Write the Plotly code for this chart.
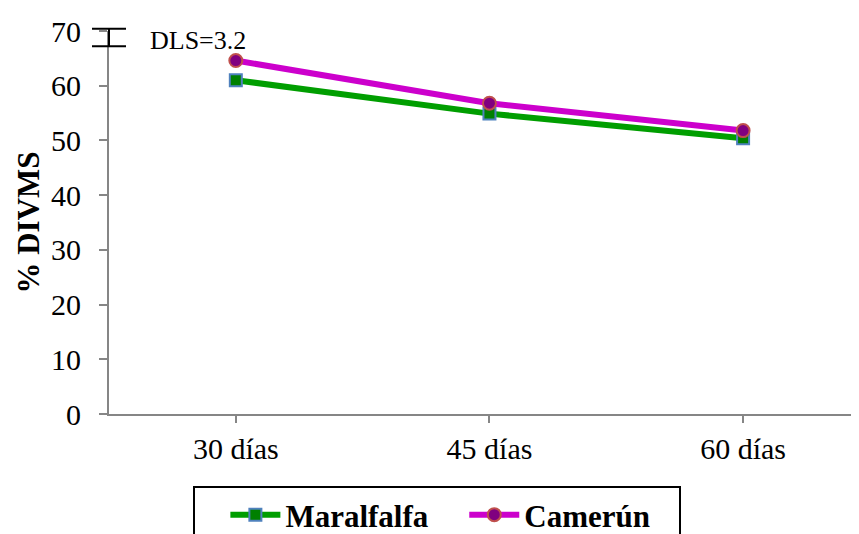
import plotly.graph_objects as go

categories = ["30 días", "45 días", "60 días"]
maralfalfa = [61.0, 54.9, 50.4]
camerun = [64.6, 56.8, 51.8]
series_names = ["Maralfalfa", "Camerún"]
dls_value = 3.2
dls_center = 68.8
y_ticks = [0, 10, 20, 30, 40, 50, 60, 70]
y_range = [0, 70]

x_idx = list(range(len(categories)))
FONT = "Liberation Serif, Times New Roman, serif"
NBSP = "\u00a0"

fig = go.Figure()
fig.add_trace(go.Scatter(
    x=x_idx, y=maralfalfa, name=series_names[0] + NBSP * 4, mode="lines+markers",
    line=dict(color="#009e00", width=6),
    marker=dict(symbol="square", size=12, color="#008000",
                line=dict(color="#4f81bd", width=2)),
    cliponaxis=False,
))
fig.add_trace(go.Scatter(
    x=x_idx, y=camerun, name=series_names[1] + NBSP * 3, mode="lines+markers",
    line=dict(color="#cc00cc", width=6),
    marker=dict(symbol="circle", size=13, color="#800080",
                line=dict(color="#c0504d", width=2)),
    cliponaxis=False,
))

# DLS error bar drawn at the y-axis (paper coords derived from data values)
span = y_range[1] - y_range[0]
lo = (dls_center - dls_value / 2 - y_range[0]) / span
hi = (dls_center + dls_value / 2 - y_range[0]) / span
bar = dict(xref="paper", yref="paper", xsizemode="pixel", xanchor=0,
           line=dict(color="black", width=2), layer="above")
fig.add_shape(type="line", x0=0, x1=0, y0=lo, y1=hi, **bar)
fig.add_shape(type="line", x0=-17, x1=17, y0=lo, y1=lo, **bar)
fig.add_shape(type="line", x0=-17, x1=17, y0=hi, y1=hi, **bar)

fig.add_annotation(
    x=-0.346, y=68.2, xref="x", yref="y", text=f"DLS={dls_value}",
    showarrow=False, xanchor="left", yanchor="middle",
    font=dict(family=FONT, size=26, color="black"),
)

fig.update_layout(
    width=851, height=526,
    margin=dict(l=101, r=0, t=23, b=120, autoexpand=False),
    paper_bgcolor="white", plot_bgcolor="white",
    font=dict(family=FONT, color="black"),
    showlegend=True,
    legend=dict(
        orientation="h", x=0.4375, xanchor="center", y=-0.188, yanchor="top",
        bordercolor="black", borderwidth=2,
        font=dict(family=FONT, size=31, color="black", weight="bold"),
        itemwidth=50, tracegroupgap=0,
        title=dict(text=NBSP * 3, side="left",
                   font=dict(family=FONT, size=27, color="black")),
    ),
)
fig.update_xaxes(
    tickmode="array", tickvals=x_idx, ticktext=categories,
    range=[-0.5, 2.457], showline=True, linecolor="#868686", linewidth=2,
    ticks="outside", ticklen=7, tickcolor="#868686", tickwidth=2,
    showgrid=False, zeroline=False, automargin=False,
    tickfont=dict(family=FONT, size=30, color="black"),
    ticklabelstandoff=0,
)
fig.update_yaxes(
    range=y_range, tickvals=y_ticks, showline=True, linecolor="#868686",
    linewidth=2, ticks="outside", ticklen=8, tickcolor="#868686", tickwidth=2,
    showgrid=False, zeroline=False, automargin=False,
    tickfont=dict(family=FONT, size=30, color="black"),
    ticklabelstandoff=12,
    title=dict(text="% DIVMS", font=dict(family=FONT, size=31, color="black", weight="bold"),
               standoff=2),
)

fig.write_html("out.html")
